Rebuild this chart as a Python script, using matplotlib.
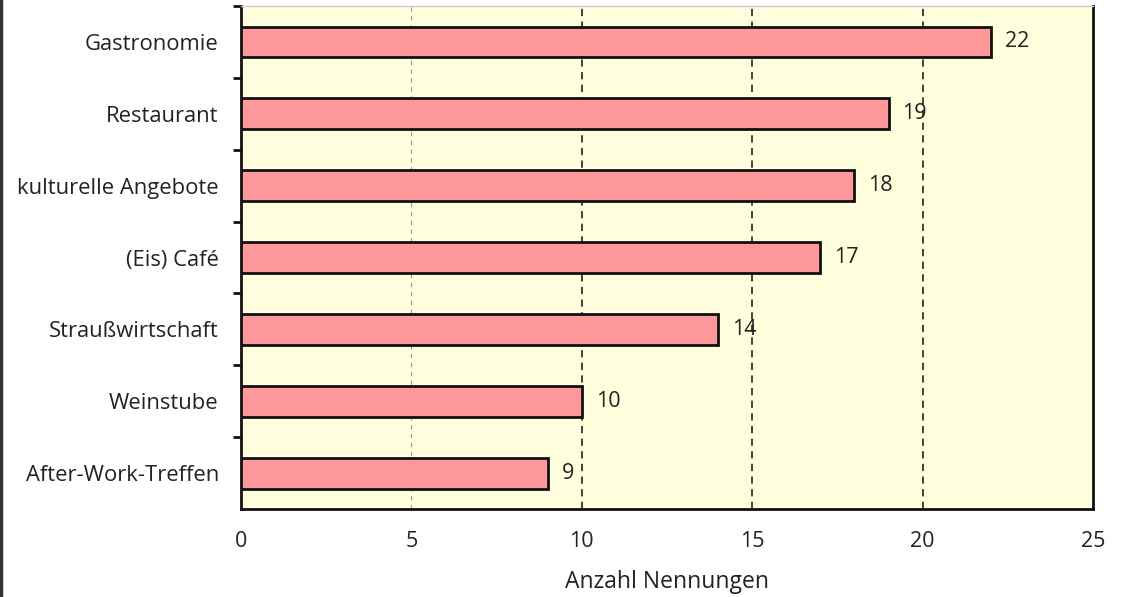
import matplotlib.pyplot as plt
from matplotlib.lines import Line2D

# Daten
kategorien = ['Gastronomie', 'Restaurant', 'kulturelle Angebote', '(Eis) Café',
              'Straußwirtschaft', 'Weinstube', 'After-Work-Treffen']
nennungen = [22, 19, 18, 17, 14, 10, 9]
x_ticks = [0, 5, 10, 15, 20, 25]

plt.rcParams['font.family'] = ['Open Sans', 'DejaVu Sans']

fig = plt.figure(figsize=(11.31, 5.97), dpi=100)
ax = fig.add_axes([0.2131, 0.1474, 0.7533, 0.8425])
ax.set_facecolor('#FFFFDD')

pos = list(range(len(kategorien)))
ax.barh(pos, nennungen, height=0.43, color='#FF9999', edgecolor='#111111', linewidth=2, zorder=3)

for p, v in zip(pos, nennungen):
    ax.annotate(str(v), (v, p), xytext=(10, 0), textcoords='offset points',
                va='center', ha='left', fontsize=15.5, color='#222222')

ax.set_ylim(len(kategorien) - 0.5, -0.5)
ax.set_xlim(0, 25)
ax.set_yticks(pos)
ax.set_yticklabels(kategorien, fontsize=15.8, color='#222222')
ax.tick_params(axis='y', length=0, pad=16)
# Teilstriche zwischen den Kategorien
ax.set_yticks([p + 0.5 for p in pos[:-1]] + [-0.5], minor=True)
ax.tick_params(axis='y', which='minor', length=6, width=2, direction='out', color='#111111')

ax.set_xticks(x_ticks)
ax.set_xticklabels([str(t) for t in x_ticks], fontsize=15.5, color='#222222')
ax.tick_params(axis='x', length=0, pad=16)
ax.set_xlabel('Anzahl Nennungen', fontsize=16.5, color='#222222', labelpad=13)

# Gitterlinien
for t in x_ticks[1:-1]:
    if t == 5:
        ax.axvline(t, color='#999999', linestyle=(0, (4, 4)), linewidth=0.8, zorder=1)
    else:
        ax.axvline(t, color='#333333', linestyle=(0, (4, 3)), linewidth=1.3, zorder=1)

for s in ['left', 'bottom', 'right']:
    ax.spines[s].set_linewidth(2)
    ax.spines[s].set_color('#111111')
ax.spines['top'].set_linewidth(1)
ax.spines['top'].set_color('#cccccc')

fig.add_artist(Line2D([0.001, 0.001], [0, 1], color='#333333', linewidth=2.5, transform=fig.transFigure))

fig.savefig('out.png', dpi=100)
